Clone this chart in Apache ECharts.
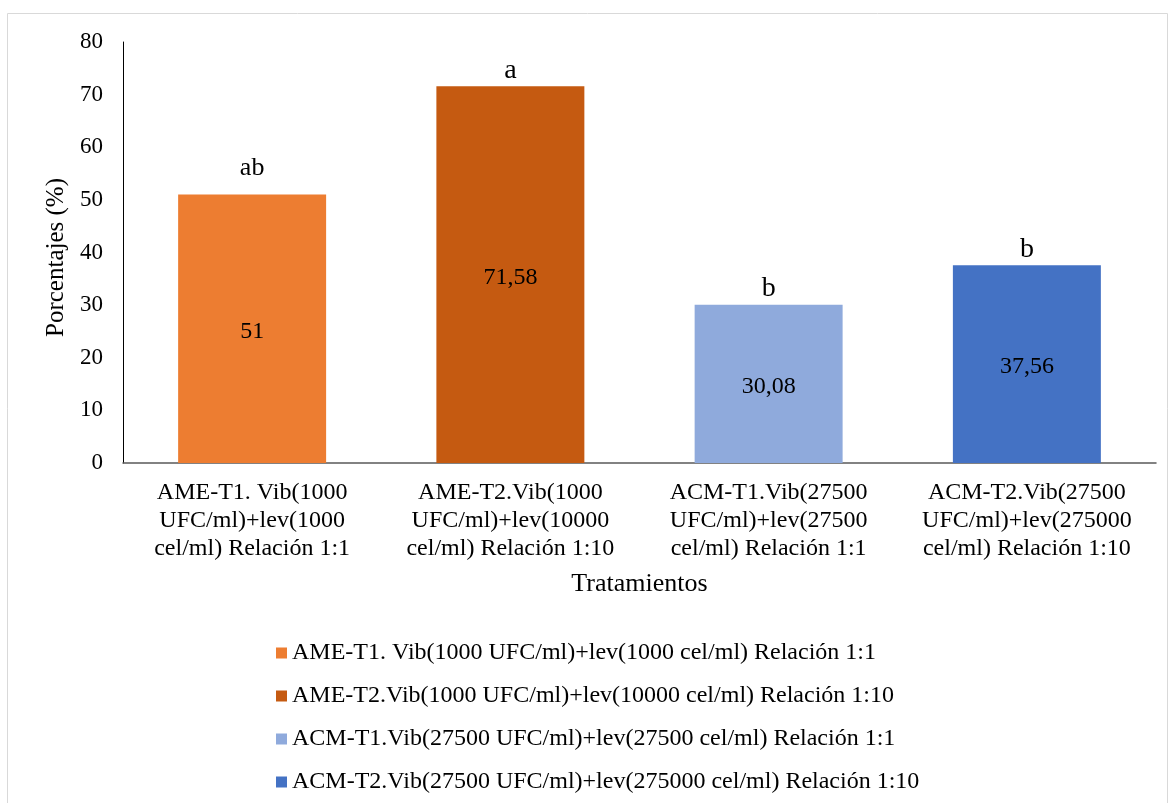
<!DOCTYPE html>
<html><head><meta charset="utf-8">
<script src="https://cdn.jsdelivr.net/npm/echarts@6/dist/echarts.min.js"></script>
<style>html,body{margin:0;padding:0;background:#fff}#c{width:1170px;height:803px}</style>
</head><body><div id="c"></div>
<script>
var categories = [
  "AME-T1. Vib(1000\nUFC/ml)+lev(1000\ncel/ml) Relación 1:1",
  "AME-T2.Vib(1000\nUFC/ml)+lev(10000\ncel/ml) Relación 1:10",
  "ACM-T1.Vib(27500\nUFC/ml)+lev(27500\ncel/ml) Relación 1:1",
  "ACM-T2.Vib(27500\nUFC/ml)+lev(275000\ncel/ml) Relación 1:10"
];
var seriesNames = [
  "AME-T1. Vib(1000 UFC/ml)+lev(1000 cel/ml) Relación 1:1",
  "AME-T2.Vib(1000 UFC/ml)+lev(10000 cel/ml) Relación 1:10",
  "ACM-T1.Vib(27500 UFC/ml)+lev(27500 cel/ml) Relación 1:1",
  "ACM-T2.Vib(27500 UFC/ml)+lev(275000 cel/ml) Relación 1:10"
];
var values = [51, 71.58, 30.08, 37.56];
var letters = ["ab", "a", "b", "b"];
var colors = ["#ED7D31", "#C55A11", "#8FAADC", "#4472C4"];

var font = "'Liberation Serif','Times New Roman',serif";
var series = seriesNames.map(function(name, i){
  var d = values.map(function(v, j){ return j === i ? v : '-'; });
  return {
    name: name, type: 'bar', data: d, barWidth: '57.3%', barGap: '-100%',
    itemStyle: {color: colors[i]},
    label: {show: true, position: 'inside', offset: [0, 3], color: '#000', fontFamily: font, fontSize: 24,
      formatter: function(p){ return String(p.value).replace('.', ','); }}
  };
});
var letterData = values.map(function(v, j){
  var first = j === 0;
  return {value: v, label: {fontSize: first ? 26 : 28, distance: first ? 13 : 2}};
});
series.push({
  name: 'letras', type: 'bar', data: letterData, barWidth: '57.3%', barGap: '-100%',
  itemStyle: {color: 'rgba(0,0,0,0)'}, silent: true,
  label: {show: true, position: 'top', color: '#000', fontFamily: font,
    formatter: function(p){ return letters[p.dataIndex]; }}
});

var chart = echarts.init(document.getElementById('c'));
chart.setOption({
  animation: false,
  textStyle: {fontFamily: font},
  graphic: [{type: 'rect', shape: {x: 7.5, y: 13.5, width: 1160, height: 800},
    style: {fill: 'none', stroke: '#d9d9d9', lineWidth: 1}, silent: true}],
  grid: {left: 123, right: 14, top: 42, bottom: 340},
  legend: {
    data: seriesNames, orient: 'vertical', left: 276, top: 641, padding: 0, height: 160,
    itemWidth: 11, itemHeight: 11, itemGap: 19, icon: 'rect',
    textStyle: {fontFamily: font, fontSize: 24, color: '#000', lineHeight: 24}
  },
  xAxis: {
    type: 'category', data: categories,
    axisLine: {lineStyle: {color: '#595959', width: 1.5}},
    axisTick: {show: false},
    axisLabel: {color: '#000', fontFamily: font, fontSize: 24, lineHeight: 28, margin: 16, interval: 0},
    name: 'Tratamientos', nameLocation: 'middle', nameGap: 108,
    nameTextStyle: {color: '#000', fontFamily: font, fontSize: 26}
  },
  yAxis: {
    type: 'value', min: 0, max: 80, interval: 10,
    axisLine: {show: true, lineStyle: {color: '#000', width: 1}},
    axisTick: {show: false},
    splitLine: {show: false},
    axisLabel: {color: '#000', fontFamily: font, fontSize: 23, margin: 20},
    name: 'Porcentajes (%)', nameLocation: 'middle', nameRotate: 90, nameGap: 51,
    nameTextStyle: {color: '#000', fontFamily: font, fontSize: 25, padding: [0, 10, 0, 0]}
  },
  series: series
});
</script></body></html>
